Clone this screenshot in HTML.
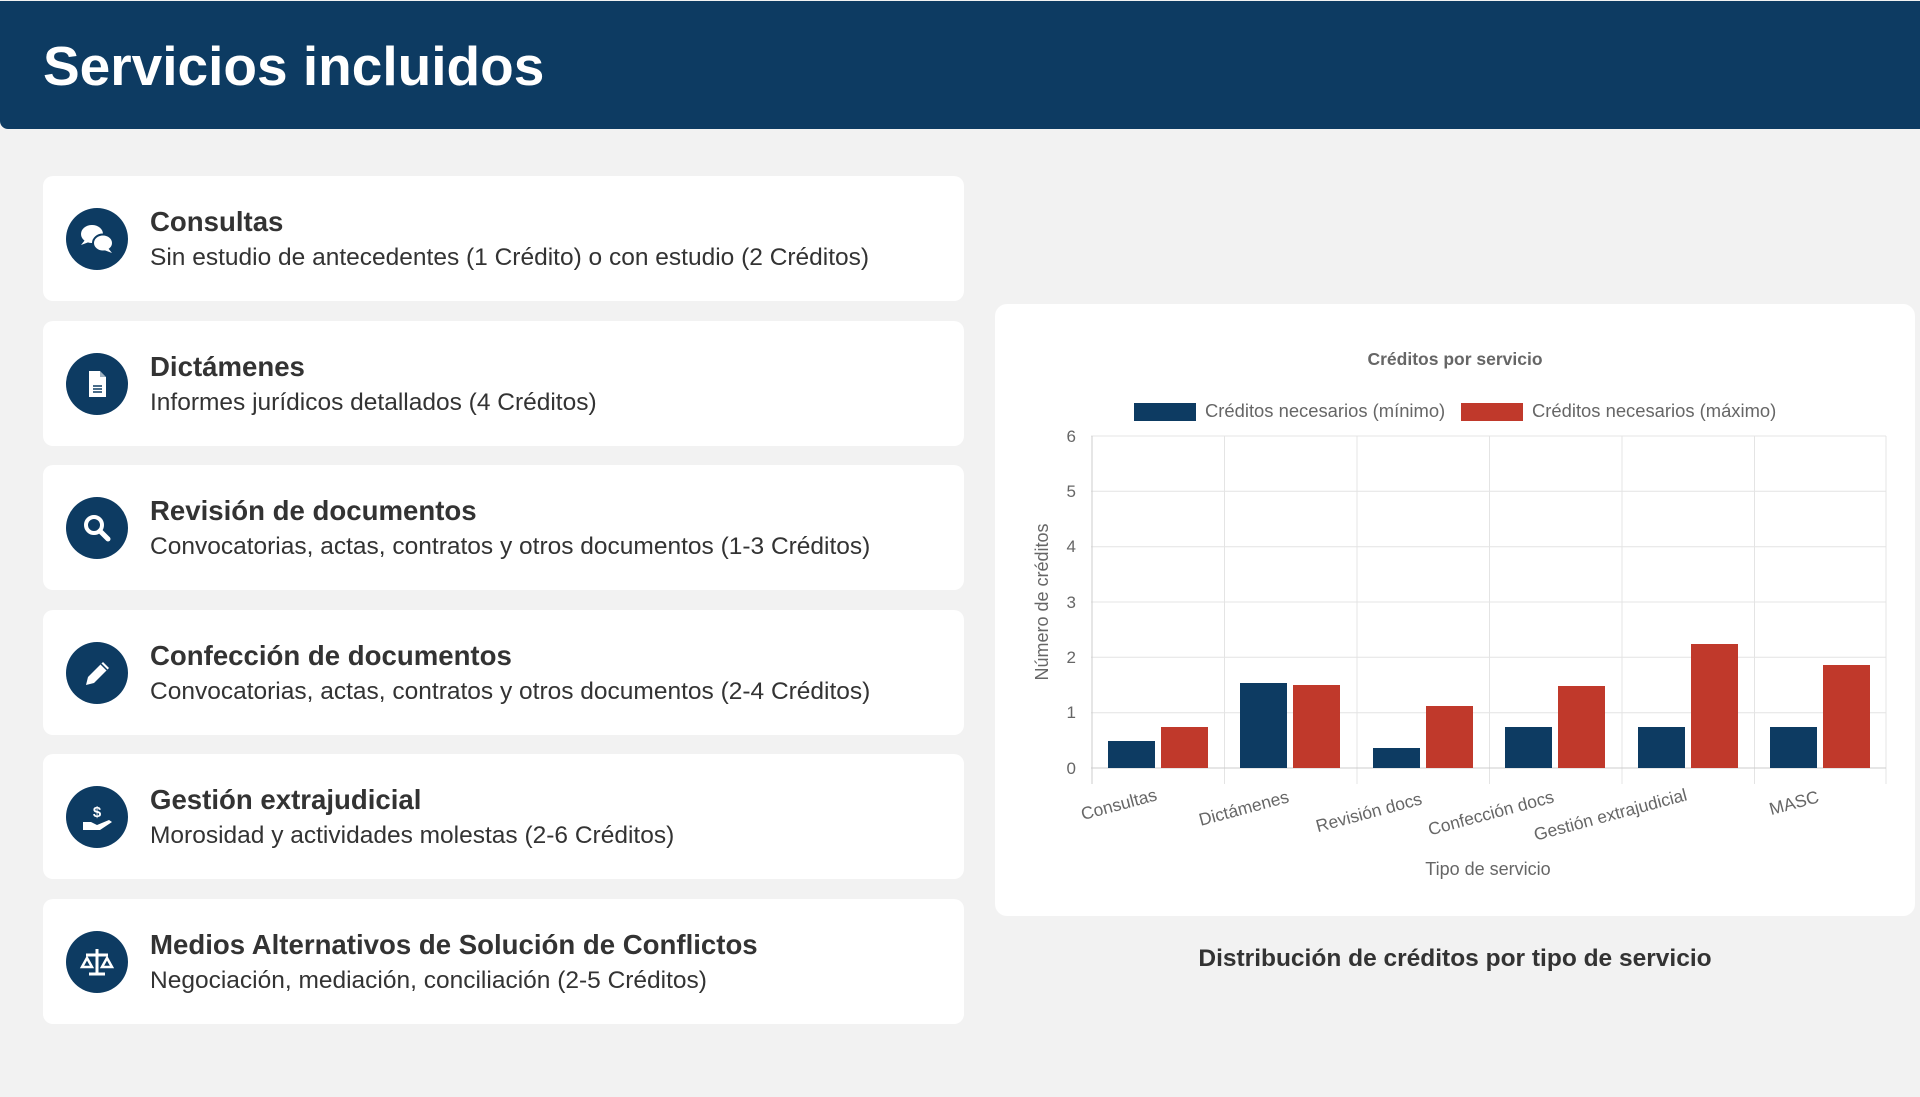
<!DOCTYPE html>
<html><head><meta charset="utf-8"><style>
*{margin:0;padding:0;box-sizing:border-box}
body{width:1920px;height:1097px;background:#f2f2f2;font-family:"Liberation Sans",Arial,sans-serif;position:relative;overflow:hidden;color:#333}
.hdr{position:absolute;left:0;top:1px;width:1920px;height:128px;background:#0d3b62;border-bottom-left-radius:8px}
.hdr h1{position:absolute;left:43px;top:38px;font-size:55px;font-weight:bold;color:#fff;line-height:1}
.card{position:absolute;left:43px;width:921px;height:125px;background:#fff;border-radius:10px}
.ic{position:absolute;left:23px;top:32px;width:62px;height:62px;border-radius:50%;background:#0d3b62}
.ic svg{position:absolute;left:0;top:0}
.t{position:absolute;left:107px;top:30px;font-size:27.6px;font-weight:bold;color:#333;white-space:nowrap}
.d{position:absolute;left:107px;top:68px;font-size:24.5px;color:#333;white-space:nowrap}
.chart{position:absolute;left:995px;top:304px;width:920px;height:612px;background:#fff;border-radius:12px}
.cap{position:absolute;left:995px;width:920px;top:945px;text-align:center;font-size:24.5px;font-weight:bold;color:#333}
</style></head><body>
<div class="hdr"><h1>Servicios incluidos</h1></div>

<div class="card" style="top:176px"><div class="ic"><svg width="62" height="62"><ellipse cx="26" cy="26" rx="11" ry="9" fill="#fff"/><path d="M19 32 l-4 5 l8 -3z" fill="#fff"/><ellipse cx="37" cy="35" rx="10" ry="8.5" fill="#fff" stroke="#0d3b62" stroke-width="2"/><path d="M42 40 l4 5 l-8 -3z" fill="#fff"/></svg></div><div class="t">Consultas</div><div class="d">Sin estudio de antecedentes (1 Crédito) o con estudio (2 Créditos)</div></div>

<div class="card" style="top:321px"><div class="ic"><svg width="62" height="62"><path d="M23 18 h11 l6 6 v20 h-17z" fill="#fff"/><path d="M34 18 v6 h6" fill="#0d3b62" opacity=".4"/><path d="M27 33 h9 M27 36 h9 M27 39 h9" stroke="#0d3b62" stroke-width="1.4"/></svg></div><div class="t">Dictámenes</div><div class="d">Informes jurídicos detallados (4 Créditos)</div></div>

<div class="card" style="top:465px"><div class="ic"><svg width="62" height="62"><circle cx="28" cy="28" r="8" fill="none" stroke="#fff" stroke-width="4"/><path d="M34 34 l8 8" stroke="#fff" stroke-width="5" stroke-linecap="round"/></svg></div><div class="t">Revisión de documentos</div><div class="d">Convocatorias, actas, contratos y otros documentos (1-3 Créditos)</div></div>

<div class="card" style="top:610px"><div class="ic"><svg width="62" height="62"><path d="M20 43 l2 -8 l15 -15 l6 6 l-15 15z" fill="#fff"/><path d="M35 22 l6 6" stroke="#0d3b62" stroke-width="1.5"/></svg></div><div class="t">Confección de documentos</div><div class="d">Convocatorias, actas, contratos y otros documentos (2-4 Créditos)</div></div>

<div class="card" style="top:754px"><div class="ic"><svg width="62" height="62"><text x="31" y="31" font-size="15" font-weight="bold" fill="#fff" text-anchor="middle" font-family="Liberation Sans">$</text><path d="M17 36 h8 l6 3 l12 -5 l3 2 l-12 8 h-17z" fill="#fff"/></svg></div><div class="t">Gestión extrajudicial</div><div class="d">Morosidad y actividades molestas (2-6 Créditos)</div></div>

<div class="card" style="top:899px"><div class="ic"><svg width="62" height="62"><path d="M31 18 v24 M20 24 h22 M23 43 h16" stroke="#fff" stroke-width="3"/><path d="M16 36 l5 -9 l5 9z M36 36 l5 -9 l5 9z" fill="none" stroke="#fff" stroke-width="2.5"/></svg></div><div class="t">Medios Alternativos de Solución de Conflictos</div><div class="d">Negociación, mediación, conciliación (2-5 Créditos)</div></div>

<div class="chart"></div>
<svg style="position:absolute;left:0;top:0" width="1920" height="1097" font-family="Liberation Sans,Arial,sans-serif">
<text x="1455" y="365" text-anchor="middle" font-size="17.5" font-weight="bold" fill="#666">Créditos por servicio</text>
<rect x="1134" y="403" width="62" height="18" fill="#0d3b62"/>
<text x="1205" y="417" font-size="18.4" fill="#666">Créditos necesarios (mínimo)</text>
<rect x="1461" y="403" width="62" height="18" fill="#c0392b"/>
<text x="1532" y="417" font-size="18.4" fill="#666">Créditos necesarios (máximo)</text>
<g stroke="#e4e4e4" stroke-width="1">
<line x1="1091" y1="436" x2="1886" y2="436"/><line x1="1091" y1="491.3" x2="1886" y2="491.3"/><line x1="1091" y1="546.7" x2="1886" y2="546.7"/><line x1="1091" y1="602" x2="1886" y2="602"/><line x1="1091" y1="657.3" x2="1886" y2="657.3"/><line x1="1091" y1="712.7" x2="1886" y2="712.7"/>
<line x1="1224.5" y1="436" x2="1224.5" y2="784"/><line x1="1357" y1="436" x2="1357" y2="784"/><line x1="1489.5" y1="436" x2="1489.5" y2="784"/><line x1="1622" y1="436" x2="1622" y2="784"/><line x1="1754.5" y1="436" x2="1754.5" y2="784"/><line x1="1886" y1="436" x2="1886" y2="784"/>
</g>
<line x1="1091" y1="768" x2="1886" y2="768" stroke="#ccc"/>
<line x1="1092" y1="436" x2="1092" y2="784" stroke="#ccc"/>
<g font-size="17" fill="#666" text-anchor="end">
<text x="1076" y="774">0</text><text x="1076" y="718">1</text><text x="1076" y="663">2</text><text x="1076" y="608">3</text><text x="1076" y="552">4</text><text x="1076" y="497">5</text><text x="1076" y="442">6</text>
</g>
<g fill="#0d3b62">
<rect x="1108" y="741" width="47" height="27"/>
<rect x="1240" y="683" width="47" height="85"/>
<rect x="1373" y="748" width="47" height="20"/>
<rect x="1505" y="727" width="47" height="41"/>
<rect x="1638" y="727" width="47" height="41"/>
<rect x="1770" y="727" width="47" height="41"/>
</g>
<g fill="#c0392b">
<rect x="1161" y="727" width="47" height="41"/>
<rect x="1293" y="685" width="47" height="83"/>
<rect x="1426" y="706" width="47" height="62"/>
<rect x="1558" y="686" width="47" height="82"/>
<rect x="1691" y="644" width="47" height="124"/>
<rect x="1823" y="665" width="47" height="103"/>
</g>
<g font-size="17.5" fill="#666" text-anchor="end">
<text transform="translate(1158,800) rotate(-15)">Consultas</text>
<text transform="translate(1290,802) rotate(-15)">Dictámenes</text>
<text transform="translate(1423,804) rotate(-15)">Revisión docs</text>
<text transform="translate(1555,802) rotate(-15)">Confección docs</text>
<text transform="translate(1688,800) rotate(-15)">Gestión extrajudicial</text>
<text transform="translate(1820,802) rotate(-15)">MASC</text>
</g>
<text x="1488" y="875" text-anchor="middle" font-size="18" fill="#666">Tipo de servicio</text>
<text transform="translate(1048,602) rotate(-90)" text-anchor="middle" font-size="18" fill="#666">Número de créditos</text>
</svg>
<div class="cap">Distribución de créditos por tipo de servicio</div>
</body></html>
